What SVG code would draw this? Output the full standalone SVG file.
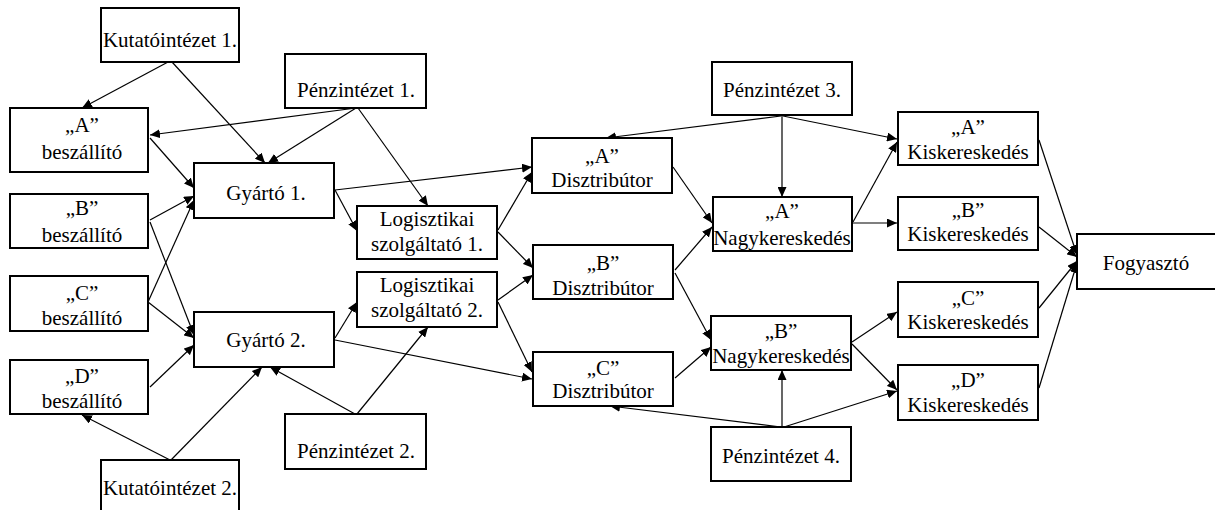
<svg xmlns="http://www.w3.org/2000/svg" width="1215" height="510" viewBox="0 0 1215 510" font-family="'Liberation Serif', 'Times New Roman', serif">
<style>
.box{fill:#fff;stroke:#000;stroke-width:2}
text{font-family:'Liberation Serif','Times New Roman',serif;font-size:21px;fill:#000;text-anchor:middle}
.c line{stroke:#000;stroke-width:1.2;marker-end:url(#ah)}
</style>
<defs>
<marker id="ah" markerUnits="userSpaceOnUse" markerWidth="11" markerHeight="9" refX="10" refY="4.5" orient="auto">
<path d="M0,0 L10,4.5 L0,9 z" fill="#000"/>
</marker>
</defs>
<rect width="1215" height="510" fill="#fff"/>
<g class="c">
<line x1="168" y1="62" x2="82" y2="108"/>
<line x1="172" y1="62" x2="265" y2="163"/>
<line x1="356" y1="108" x2="150" y2="135"/>
<line x1="356" y1="108" x2="268" y2="163"/>
<line x1="358" y1="108" x2="428" y2="206"/>
<line x1="150" y1="138" x2="194" y2="188"/>
<line x1="150" y1="220" x2="194" y2="196"/>
<line x1="150" y1="222" x2="194" y2="335"/>
<line x1="148" y1="302" x2="194" y2="200"/>
<line x1="148" y1="302" x2="194" y2="338"/>
<line x1="150" y1="387" x2="194" y2="345"/>
<line x1="170" y1="460" x2="82" y2="415"/>
<line x1="171" y1="460" x2="262" y2="367"/>
<line x1="355" y1="414" x2="270" y2="367"/>
<line x1="357" y1="414" x2="428" y2="327"/>
<line x1="335" y1="190" x2="532" y2="167"/>
<line x1="335" y1="190" x2="357" y2="231"/>
<line x1="498" y1="230" x2="532" y2="172"/>
<line x1="498" y1="232" x2="533" y2="268"/>
<line x1="498" y1="300" x2="533" y2="275"/>
<line x1="498" y1="302" x2="532" y2="372"/>
<line x1="335" y1="338" x2="357" y2="302"/>
<line x1="335" y1="340" x2="532" y2="379"/>
<line x1="781" y1="116" x2="606" y2="138"/>
<line x1="782" y1="116" x2="782" y2="197"/>
<line x1="783" y1="116" x2="897" y2="139"/>
<line x1="673" y1="167" x2="712" y2="223"/>
<line x1="675" y1="270" x2="712" y2="227"/>
<line x1="675" y1="273" x2="711" y2="340"/>
<line x1="675" y1="378" x2="711" y2="347"/>
<line x1="781" y1="427" x2="610" y2="406"/>
<line x1="782" y1="427" x2="782" y2="370"/>
<line x1="784" y1="427" x2="897" y2="391"/>
<line x1="853" y1="222" x2="897" y2="142"/>
<line x1="853" y1="223" x2="897" y2="223"/>
<line x1="852" y1="342" x2="897" y2="312"/>
<line x1="852" y1="344" x2="897" y2="390"/>
<line x1="1039" y1="140" x2="1077" y2="255"/>
<line x1="1039" y1="227" x2="1077" y2="257"/>
<line x1="1039" y1="308" x2="1077" y2="261"/>
<line x1="1039" y1="388" x2="1077" y2="263"/>
</g>
<g id="kut1"><rect class="box" x="101" y="8" width="138" height="54"/><text x="170" y="47">Kutatóintézet 1.</text></g>
<g id="penz1"><rect class="box" x="285" y="54" width="141" height="54"/><text x="356" y="97">Pénzintézet 1.</text></g>
<g id="aBesz"><rect class="box" x="10" y="108" width="138" height="64"/><text x="82" y="132">„A”</text><text x="82" y="159">beszállító</text></g>
<g id="bBesz"><rect class="box" x="10" y="194" width="138" height="54"/><text x="82" y="215">„B”</text><text x="82" y="242">beszállító</text></g>
<g id="cBesz"><rect class="box" x="10" y="276" width="138" height="55"/><text x="82" y="300">„C”</text><text x="82" y="325">beszállító</text></g>
<g id="dBesz"><rect class="box" x="10" y="360" width="138" height="54"/><text x="82" y="383">„D”</text><text x="82" y="408">beszállító</text></g>
<g id="gyarto1"><rect class="box" x="194" y="163" width="140" height="55"/><text x="266" y="200">Gyártó 1.</text></g>
<g id="gyarto2"><rect class="box" x="194" y="312" width="140" height="55"/><text x="266" y="347">Gyártó 2.</text></g>
<g id="kut2"><rect class="box" x="101" y="460" width="138" height="60"/><text x="170" y="495">Kutatóintézet 2.</text></g>
<g id="penz2"><rect class="box" x="285" y="414" width="141" height="55"/><text x="356" y="458">Pénzintézet 2.</text></g>
<g id="log1"><rect class="box" x="357" y="206" width="140" height="53"/><text x="427" y="226">Logisztikai</text><text x="427" y="251">szolgáltató 1.</text></g>
<g id="log2"><rect class="box" x="357" y="272" width="140" height="55"/><text x="427" y="292">Logisztikai</text><text x="427" y="317">szolgáltató 2.</text></g>
<g id="aDist"><rect class="box" x="532" y="138" width="140" height="55"/><text x="602" y="163">„A”</text><text x="602" y="187">Disztribútor</text></g>
<g id="bDist"><rect class="box" x="533" y="245" width="140" height="54"/><text x="603" y="270">„B”</text><text x="603" y="295">Disztribútor</text></g>
<g id="cDist"><rect class="box" x="533" y="352" width="140" height="54"/><text x="603" y="375">„C”</text><text x="603" y="398">Disztribútor</text></g>
<g id="penz3"><rect class="box" x="712" y="62" width="140" height="53"/><text x="782" y="97">Pénzintézet 3.</text></g>
<g id="aNagy"><rect class="box" x="713" y="197" width="139" height="54"/><text x="782" y="218">„A”</text><text x="782" y="245">Nagykereskedés</text></g>
<g id="bNagy"><rect class="box" x="711" y="316" width="140" height="54"/><text x="781" y="338">„B”</text><text x="781" y="363">Nagykereskedés</text></g>
<g id="penz4"><rect class="box" x="711" y="427" width="140" height="54"/><text x="781" y="463">Pénzintézet 4.</text></g>
<g id="aKisk"><rect class="box" x="898" y="112" width="140" height="53"/><text x="968" y="134">„A”</text><text x="968" y="159">Kiskereskedés</text></g>
<g id="bKisk"><rect class="box" x="898" y="197" width="140" height="53"/><text x="968" y="217">„B”</text><text x="968" y="241">Kiskereskedés</text></g>
<g id="cKisk"><rect class="box" x="898" y="282" width="140" height="55"/><text x="968" y="305">„C”</text><text x="968" y="329">Kiskereskedés</text></g>
<g id="dKisk"><rect class="box" x="898" y="365" width="140" height="55"/><text x="968" y="387">„D”</text><text x="968" y="412">Kiskereskedés</text></g>
<g id="fogy"><rect class="box" x="1077" y="234" width="150" height="55"/><text x="1146" y="270">Fogyasztó</text></g>
</svg>
